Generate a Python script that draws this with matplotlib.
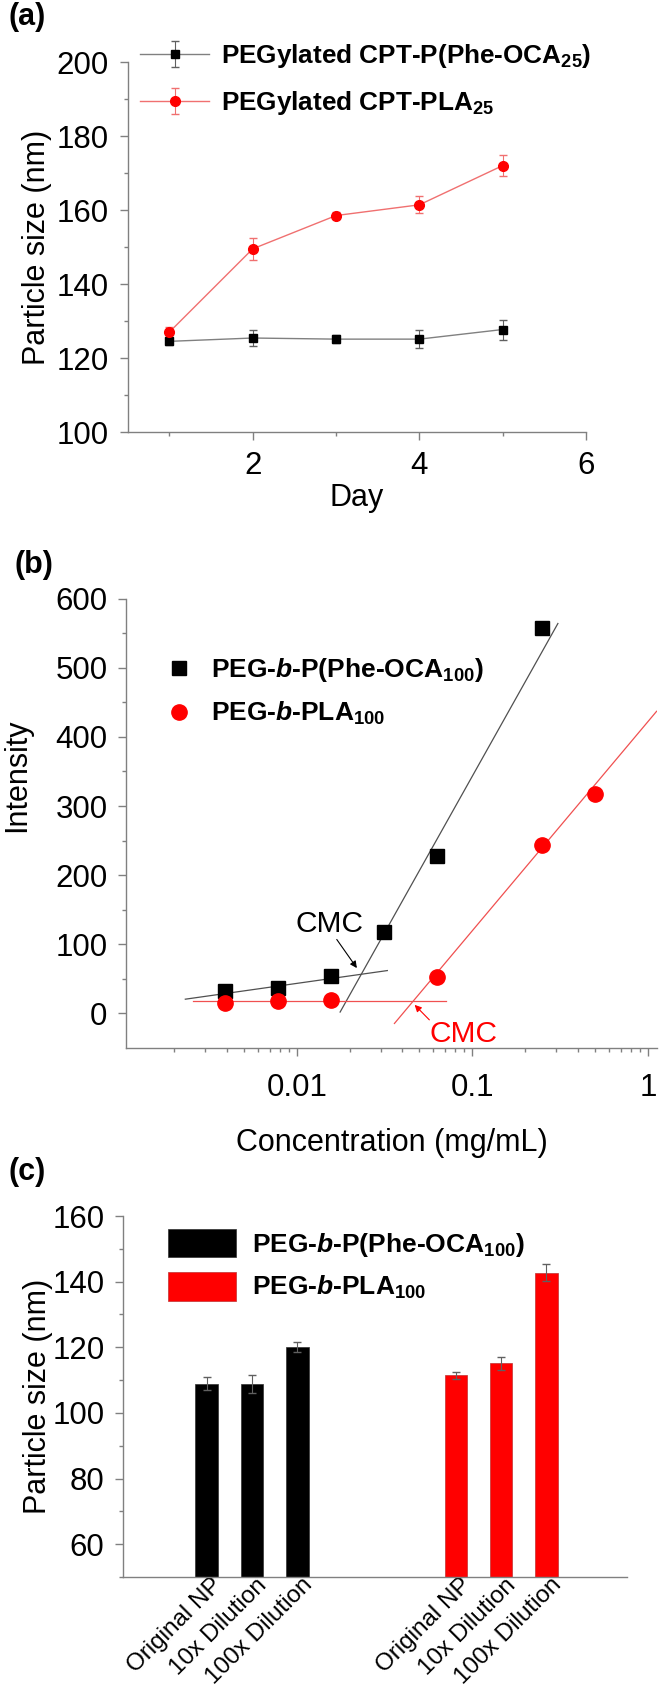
import matplotlib
matplotlib.use('Agg')
import matplotlib.pyplot as plt
import numpy as np
from matplotlib.ticker import MultipleLocator, FixedLocator, NullFormatter, LogLocator, FuncFormatter
from matplotlib.transforms import ScaledTranslation

plt.rcParams['font.family'] = ['Liberation Sans', 'DejaVu Sans']
plt.rcParams['mathtext.fontset'] = 'custom'
plt.rcParams['mathtext.rm'] = 'Liberation Sans:bold'
plt.rcParams['mathtext.bf'] = 'Liberation Sans:bold'
plt.rcParams['mathtext.it'] = 'Liberation Sans:italic:bold'

# (a) particle size over time
days = [1, 2, 3, 4, 5]
size_phe = [124.5, 125.4, 125.1, 125.1, 127.7]
err_phe = [1.0, 2.2, 1.0, 2.5, 2.7]
size_pla = [127.0, 149.5, 158.5, 161.4, 172.0]
err_pla = [1.5, 3.0, 1.0, 2.3, 2.8]

# (b) fluorescence intensity vs concentration
conc_phe = [0.0039, 0.0078, 0.0156, 0.03125, 0.0625, 0.25]
int_phe = [33, 37, 54, 118, 228, 558]
conc_pla = [0.0039, 0.0078, 0.0156, 0.0625, 0.25, 0.5]
int_pla = [15, 17.5, 19, 53, 243, 317]
# fitted lines (end points)
fit_phe_low_x = [0.00232, 0.0328]
fit_phe_low_y = [20.6, 62]
fit_phe_high_x = [0.01766, 0.307]
fit_phe_high_y = [2, 564]
fit_pla_low_x = [0.00258, 0.071]
fit_pla_low_y = [18, 18]
fit_pla_high_x = [0.036, 1.12]
fit_pla_high_y = [-14.5, 437]

# (c) particle size after dilution
dil_labels = ['Original NP', '10x Dilution', '100x Dilution']
bar_phe = [108.9, 108.9, 120.0]
bar_phe_err = [1.9, 2.8, 1.5]
bar_pla = [111.4, 115.1, 142.7]
bar_pla_err = [1.1, 2.0, 2.6]

W, H = 660, 1687
fig = plt.figure(figsize=(W / 100, H / 100), dpi=100)


def rect(left, top, right, bottom):
    return [left / W, 1 - bottom / H, (right - left) / W, (bottom - top) / H]


def fxy(x, y):
    return (x / W, 1 - y / H)


def style_axes(ax):
    ax.spines['top'].set_visible(False)
    ax.spines['right'].set_visible(False)
    for s in ['left', 'bottom']:
        ax.spines[s].set_color('#808080')
        ax.spines[s].set_linewidth(1.0)
    ax.tick_params(which='major', direction='out', length=6, width=1.0, color='#808080',
                   labelsize=22.5, pad=7.5)
    ax.tick_params(which='minor', direction='out', length=3, width=1.0, color='#808080')


# ---------------- (a) ----------------
axA = fig.add_axes(rect(127.7, 62, 586, 432))
style_axes(axA)
axA.errorbar(days, size_phe, yerr=err_phe, color='#808080', lw=1.0, marker='s', ms=6,
             mfc='black', mec='black', ecolor='#606060', elinewidth=0.8, capsize=3,
             label='PEGylated CPT-P(Phe-OCA$_{25}$)')
axA.errorbar(days, size_pla, yerr=err_pla, color='#f07070', lw=1.0, marker='o', ms=7,
             mfc='red', mec='red', ecolor='#f07070', elinewidth=0.8, capsize=3,
             label='PEGylated CPT-PLA$_{25}$')
axA.set_xlim(0.5, 6)
axA.set_ylim(100, 200)
axA.xaxis.set_major_locator(MultipleLocator(2))
axA.xaxis.set_minor_locator(MultipleLocator(1))
axA.yaxis.set_major_locator(MultipleLocator(20))
axA.yaxis.set_minor_locator(MultipleLocator(10))
axA.tick_params(axis='x', pad=8)
axA.set_xlabel('Day', fontsize=22, labelpad=1)
axA.set_ylabel('Particle size (nm)', fontsize=22)
axA.yaxis.set_label_coords(-(127.7 - 52) / (586 - 127.7), 0.5)
axA.legend(loc='center left', bbox_to_anchor=fxy(140, 79.5), bbox_transform=fig.transFigure,
           frameon=False, borderpad=0, borderaxespad=0, handlelength=2.65,
           handletextpad=0.45, labelspacing=0.75, prop={'weight': 'bold', 'size': 18.8})
fig.text(8 / W, 1 - 17 / H, '(a)', fontsize=22, fontweight='bold', ha='left', va='center')

# ---------------- (b) ----------------
axB = fig.add_axes(rect(126.3, 598.6, 656.6, 1048))
style_axes(axB)
axB.set_xscale('log')
axB.plot(fit_phe_low_x, fit_phe_low_y, color='#505050', lw=0.9)
axB.plot(fit_phe_high_x, fit_phe_high_y, color='#505050', lw=0.9)
axB.plot(fit_pla_low_x, fit_pla_low_y, color='#f05050', lw=0.9)
axB.plot(fit_pla_high_x, fit_pla_high_y, color='#f05050', lw=0.9)
axB.plot(conc_phe, int_phe, 's', color='black', ms=10, label='PEG-$\\mathit{b}$-P(Phe-OCA$_{100}$)')
axB.plot(conc_pla, int_pla, 'o', color='red', ms=11, label='PEG-$\\mathit{b}$-PLA$_{100}$')
axB.set_xlim(0.00107, 1.12)
axB.set_ylim(-50, 600)
axB.yaxis.set_major_locator(FixedLocator([0, 100, 200, 300, 400, 500, 600]))
axB.yaxis.set_minor_locator(FixedLocator([50, 150, 250, 350, 450, 550]))
axB.xaxis.set_major_locator(FixedLocator([0.01, 0.1, 1]))
axB.xaxis.set_major_formatter(FuncFormatter(lambda v, p: {0.01: '0.01', 0.1: '0.1', 1: '1'}.get(round(v, 4), '')))
axB.xaxis.set_minor_locator(LogLocator(base=10, subs=np.arange(2, 10)))
axB.xaxis.set_minor_formatter(NullFormatter())
axB.tick_params(axis='x', pad=12)
axB.set_xlabel('Concentration (mg/mL)', fontsize=22, labelpad=18)
axB.set_ylabel('Intensity', fontsize=22)
axB.yaxis.set_label_coords(-(126.3 - 32) / (656.6 - 126.3), (1048 - 775) / (1048 - 598.6))
# CMC markers
axB.annotate('', xy=(0.0220, 65.6), xytext=(0.0169, 107),
             arrowprops=dict(arrowstyle='-|>', color='black', lw=0.8, mutation_scale=10,
                             shrinkA=0, shrinkB=0))
axB.text(0.01527, 130, 'CMC', fontsize=21.5, ha='center', va='center')
axB.annotate('', xy=(0.0469, 12.4), xytext=(0.0569, -9.3),
             arrowprops=dict(arrowstyle='-|>', color='red', lw=0.8, mutation_scale=10,
                             shrinkA=0, shrinkB=0))
axB.text(0.0889, -30, 'CMC', fontsize=21.5, color='red', ha='center', va='center')
axB.legend(loc='center left', bbox_to_anchor=fxy(166, 691.5), bbox_transform=fig.transFigure,
           frameon=False, borderpad=0, borderaxespad=0, handlelength=1.0, numpoints=1,
           handletextpad=0.7, labelspacing=0.6, prop={'weight': 'bold', 'size': 19})
fig.text(15 / W, 1 - 565 / H, '(b)', fontsize=22, fontweight='bold', ha='left', va='center')

# ---------------- (c) ----------------
axC = fig.add_axes(rect(123.3, 1216, 627.1, 1577))
style_axes(axC)
pos_phe = [1, 2, 3]
pos_pla = [6.5, 7.5, 8.5]
axC.bar(pos_phe, bar_phe, width=0.5, color='black', edgecolor='#303030', lw=0.5,
        label='PEG-$\\mathit{b}$-P(Phe-OCA$_{100}$)')
axC.bar(pos_pla, bar_pla, width=0.5, color='#ff0000', edgecolor='#c03030', lw=0.5,
        label='PEG-$\\mathit{b}$-PLA$_{100}$')
axC.errorbar(pos_phe, bar_phe, yerr=bar_phe_err, fmt='none', ecolor='#606060', elinewidth=0.8, capsize=3)
axC.errorbar(pos_pla, bar_pla, yerr=bar_pla_err, fmt='none', ecolor='#606060', elinewidth=0.8, capsize=3)
axC.set_xlim(-0.84, 10.28)
axC.set_ylim(50, 160)
axC.yaxis.set_major_locator(MultipleLocator(20))
axC.yaxis.set_minor_locator(MultipleLocator(10))
axC.set_xticks(pos_phe + pos_pla)
axC.set_xticklabels(dil_labels + dil_labels, rotation=45, ha='right', va='baseline',
                    rotation_mode='anchor', fontsize=17.5)
axC.tick_params(axis='x', length=0, pad=0)
shift = ScaledTranslation(0.16, -0.09, fig.dpi_scale_trans)
for lab in axC.get_xticklabels():
    lab.set_transform(lab.get_transform() + shift)
axC.set_ylabel('Particle size (nm)', fontsize=22)
axC.yaxis.set_label_coords(-(123.3 - 53) / (627.1 - 123.3), 0.5)
axC.legend(loc='center left', bbox_to_anchor=fxy(168, 1265), bbox_transform=fig.transFigure,
           frameon=False, borderpad=0, borderaxespad=0, handlelength=2.58, handleheight=1.29,
           handletextpad=0.6, labelspacing=0.5, prop={'weight': 'bold', 'size': 19})
fig.text(9 / W, 1 - 1172 / H, '(c)', fontsize=22, fontweight='bold', ha='left', va='center')

fig.savefig('out.png', dpi=100)
